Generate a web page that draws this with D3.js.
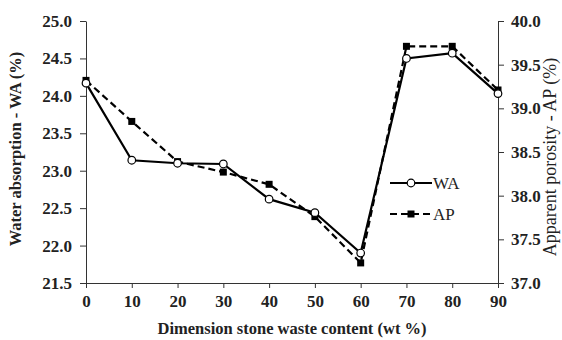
<!DOCTYPE html>
<html>
<head>
<meta charset="utf-8">
<script src="https://cdn.jsdelivr.net/npm/d3@7"></script>
<style>
  body { margin: 0; background: #fff; }
  svg { display: block; }
  .tick text { font-family: "Liberation Serif", "Times New Roman", serif; font-weight: bold; font-size: 17px; fill: #222; }
  .domain, .tick line { stroke: #333; }
  .title { font-family: "Liberation Serif", "Times New Roman", serif; font-weight: bold; font-size: 16.5px; fill: #222; }
  .title.light { font-weight: normal; font-size: 18px; }
  .legend text { font-family: "Liberation Serif", "Times New Roman", serif; font-size: 17px; fill: #222; }
</style>
</head>
<body>
<svg id="chart" width="562" height="340"></svg>
<script>
// wt % of dimension stone waste
var content = [0, 10, 20, 30, 40, 50, 60, 70, 80, 90];
// water absorption (left axis)
var wa = [24.17, 23.14, 23.10, 23.09, 22.62, 22.44, 21.90, 24.50, 24.57, 24.03];
// apparent porosity (right axis)
var ap = [39.32, 38.85, 38.39, 38.27, 38.13, 37.76, 37.23, 39.71, 39.71, 39.21];

var xTicks = [0, 10, 20, 30, 40, 50, 60, 70, 80, 90];
var waTicks = [21.5, 22.0, 22.5, 23.0, 23.5, 24.0, 24.5, 25.0];
var apTicks = [37.0, 37.5, 38.0, 38.5, 39.0, 39.5, 40.0];

var svg = d3.select("#chart");
var margin = {top: 21, right: 64, bottom: 57, left: 86},
    width = 562 - margin.left - margin.right,
    height = 340 - margin.top - margin.bottom;

var g = svg.append("g").attr("transform", "translate(" + margin.left + "," + margin.top + ")");

var x = d3.scaleLinear().domain([0, 90]).range([0, width]);
var yL = d3.scaleLinear().domain([21.5, 25]).range([height, 0]);
var yR = d3.scaleLinear().domain([37, 40]).range([height, 0]);

g.append("g")
    .attr("transform", "translate(0," + height + ")")
    .call(d3.axisBottom(x).tickValues(xTicks).tickFormat(d3.format("d")).tickSizeInner(5).tickSizeOuter(0).tickPadding(7));

g.append("g")
    .call(d3.axisLeft(yL).tickValues(waTicks).tickFormat(d3.format(".1f")).tickSizeInner(6).tickSizeOuter(0).tickPadding(8));

g.append("g")
    .attr("transform", "translate(" + width + ",0)")
    .call(d3.axisRight(yR).tickValues(apTicks).tickFormat(d3.format(".1f")).tickSizeInner(6).tickSizeOuter(0).tickPadding(7));

var lineWA = d3.line().x(function(d, i) { return x(content[i]); }).y(function(d) { return yL(d); });
var lineAP = d3.line().x(function(d, i) { return x(content[i]); }).y(function(d) { return yR(d); });

g.append("path").datum(ap)
    .attr("d", lineAP)
    .attr("fill", "none").attr("stroke", "#000").attr("stroke-width", 2.2)
    .attr("stroke-dasharray", "7,4");

g.append("path").datum(wa)
    .attr("d", lineWA)
    .attr("fill", "none").attr("stroke", "#000").attr("stroke-width", 2.2);

g.selectAll(".sq").data(ap).enter().append("rect")
    .attr("x", function(d, i) { return x(content[i]) - 3.5; })
    .attr("y", function(d) { return yR(d) - 3.5; })
    .attr("width", 7).attr("height", 7)
    .attr("fill", "#000");

g.selectAll(".ci").data(wa).enter().append("circle")
    .attr("cx", function(d, i) { return x(content[i]); })
    .attr("cy", function(d) { return yL(d); })
    .attr("r", 3.8)
    .attr("fill", "#fff").attr("stroke", "#000").attr("stroke-width", 1.2);

// legend
var leg = svg.append("g").attr("class", "legend");
leg.append("line").attr("x1", 390).attr("x2", 432).attr("y1", 183).attr("y2", 183)
    .attr("stroke", "#000").attr("stroke-width", 2.2);
leg.append("circle").attr("cx", 411).attr("cy", 183).attr("r", 3.8)
    .attr("fill", "#fff").attr("stroke", "#000").attr("stroke-width", 1.2);
leg.append("text").attr("x", 433).attr("y", 189).text("WA");
leg.append("line").attr("x1", 390).attr("x2", 432).attr("y1", 214).attr("y2", 214)
    .attr("stroke", "#000").attr("stroke-width", 2.2).attr("stroke-dasharray", "7,4");
leg.append("rect").attr("x", 407.5).attr("y", 210.5).attr("width", 7).attr("height", 7).attr("fill", "#000");
leg.append("text").attr("x", 433).attr("y", 220).text("AP");

// axis titles
svg.append("text").attr("class", "title")
    .attr("x", margin.left + width / 2).attr("y", 334)
    .attr("text-anchor", "middle")
    .text("Dimension stone waste content (wt %)");

svg.append("text").attr("class", "title")
    .attr("transform", "translate(21,149) rotate(-90)")
    .attr("text-anchor", "middle")
    .text("Water absorption - WA (%)");

svg.append("text").attr("class", "title light")
    .attr("transform", "translate(556,157) rotate(-90)")
    .attr("text-anchor", "middle")
    .text("Apparent porosity - AP (%)");
</script>
</body>
</html>
